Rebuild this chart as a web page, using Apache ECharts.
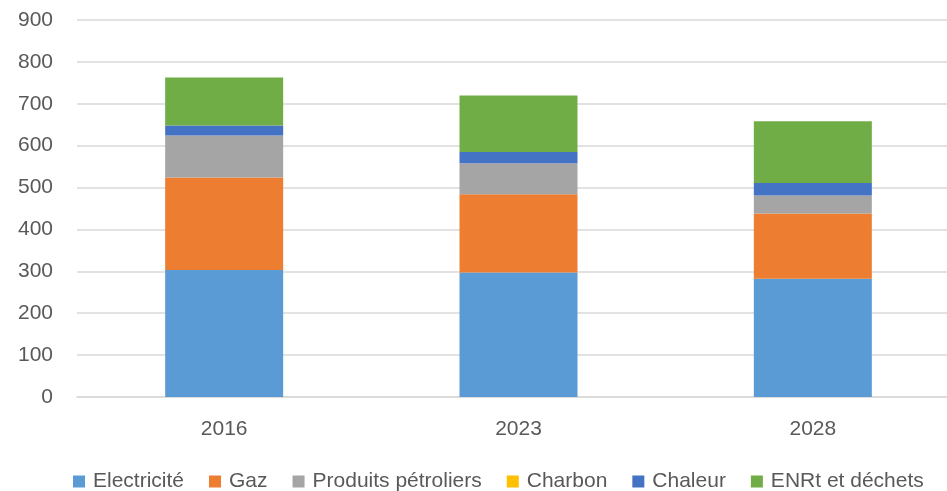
<!DOCTYPE html>
<html><head><meta charset="utf-8">
<script src="https://cdn.jsdelivr.net/npm/echarts@6/dist/echarts.min.js"></script>
<style>html,body{margin:0;padding:0;background:#fff;overflow:hidden}#c{width:960px;height:491px}</style>
</head><body><div id="c"></div>
<script>
const categories = ['2016', '2023', '2028'];
const electricite = [303, 297, 282];
const gaz = [221, 187, 156];
const petroliers = [100, 74, 43];
const charbon = [0, 0, 0];
const chaleur = [24, 27, 30];
const enrt = [115, 135, 147];
const seriesNames = ['Electricité', 'Gaz', 'Produits pétroliers', 'Charbon', 'Chaleur', 'ENRt et déchets'];
const colors = ['#5B9BD5', '#ED7D31', '#A5A5A5', '#FFC000', '#4472C4', '#70AD47'];
const values = [electricite, gaz, petroliers, charbon, chaleur, enrt];
const font = 'Liberation Sans';
const chart = echarts.init(document.getElementById('c'));
chart.setOption({
  animation: false,
  textStyle: {fontFamily: font},
  grid: {left: 77, right: 0, top: 20, bottom: 94, containLabel: false},
  legend: {
    left: 73, top: 471, padding: 0, itemWidth: 12, itemHeight: 12, itemGap: 25,
    icon: 'rect',
    textStyle: {fontFamily: font, fontSize: 21, color: '#595959', padding: [0,0,0,3]},
    data: seriesNames
  },
  xAxis: {
    type: 'category', data: categories,
    axisLine: {lineStyle: {color: '#d9d9d9', width: 1.5}},
    axisTick: {show: false},
    axisLabel: {color: '#595959', fontSize: 21, margin: 22, fontFamily: font}
  },
  yAxis: {
    type: 'value', min: 0, max: 900, interval: 100,
    axisLine: {show: false}, axisTick: {show: false},
    splitLine: {lineStyle: {color: '#d9d9d9', width: 1.5}},
    axisLabel: {color: '#595959', fontSize: 21, margin: 24, fontFamily: font}
  },
  series: seriesNames.map((n, i) => ({
    name: n, type: 'bar', stack: 'total', barWidth: 118,
    itemStyle: {color: colors[i]},
    data: values[i]
  }))
});
</script></body></html>
